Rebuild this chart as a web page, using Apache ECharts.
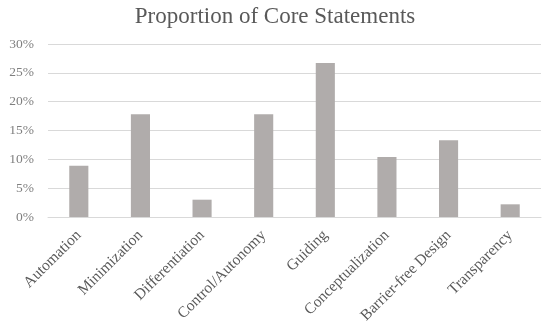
<!DOCTYPE html>
<html><head><meta charset="utf-8">
<script src="https://cdn.jsdelivr.net/npm/echarts@6/dist/echarts.min.js"></script>
<style>html,body{margin:0;padding:0;background:#fff}#c{width:550px;height:322px}</style>
</head><body><div id="c"></div>
<script>
var categories = ["Automation","Minimization","Differentiation","Control/Autonomy","Guiding","Conceptualization","Barrier-free Design","Transparency"];
var values = [8.9, 17.8, 3.0, 17.8, 26.7, 10.4, 13.3, 2.2];
var yTicks = [0, 5, 10, 15, 20, 25, 30];
var titleText = "Proportion of Core Statements";
var font = "'Liberation Serif', 'DejaVu Serif', serif";
var chart = echarts.init(document.getElementById('c'), null, {renderer:'canvas'});
chart.setOption({
  animation:false,
  title:{text:titleText,left:'center',top:0,textStyle:{fontFamily:font,fontWeight:'normal',fontSize:23,color:'#595959'}},
  grid:{left:48,right:9,top:44,bottom:105,containLabel:false,outerBoundsMode:'none'},
  xAxis:{type:'category',data:categories,
    axisLine:{lineStyle:{color:'#D9D9D9',width:1}},axisTick:{show:false},
    axisLabel:{rotate:45,margin:16,interval:0,fontFamily:font,fontSize:15.5,color:'#595959'}},
  yAxis:{type:'value',min:yTicks[0],max:yTicks[yTicks.length-1],interval:5,
    axisLine:{show:false},axisTick:{show:false},
    splitLine:{lineStyle:{color:'#D9D9D9',width:1}},
    axisLabel:{margin:14,fontFamily:font,fontSize:13.5,color:'#7F7F7F',formatter:function(v){return v+'%';}}},
  series:[{type:'bar',data:values,barWidth:'31%',itemStyle:{color:'#B0ACAB'}}]
});
</script></body></html>
